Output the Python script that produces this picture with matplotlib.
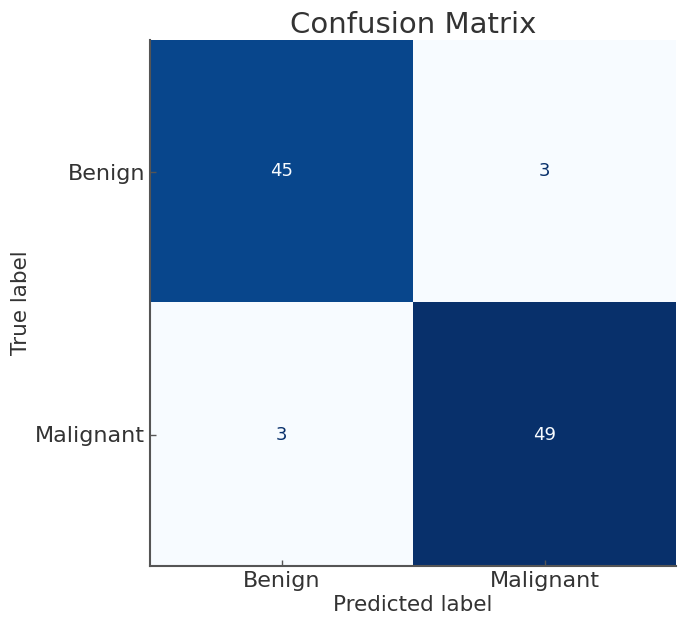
import numpy as np
import matplotlib
matplotlib.use("Agg")
import matplotlib.pyplot as plt

# ── data ─────────────────────────────────────────────────────────────────────
class_names = ["Benign", "Malignant"]
cm = np.array([[45, 3],
               [3, 49]])

# ── plot ─────────────────────────────────────────────────────────────────────
text_grey = "#333333"
fig = plt.figure(figsize=(6.85, 6.26), dpi=100)
ax = fig.add_axes([150 / 685, 60 / 626, 526 / 685, 526 / 626])

cmap = plt.get_cmap("Blues")
im = ax.imshow(cm, cmap=cmap, interpolation="nearest", aspect="auto")

# cell text, light on dark cells and dark on light ones (like sklearn)
thresh = (cm.max() + cm.min()) / 2.0
for i in range(cm.shape[0]):
    for j in range(cm.shape[1]):
        color = cmap(0.0) if cm[i, j] > thresh else cmap(1.0)
        ax.text(j, i, str(cm[i, j]), ha="center", va="center",
                color=color, fontsize=13)

ax.set_xticks(range(len(class_names)))
ax.set_yticks(range(len(class_names)))
ax.set_xticklabels(class_names)
ax.set_yticklabels(class_names)
ax.tick_params(direction="in", length=4, width=1, colors="#555555",
               labelcolor=text_grey, labelsize=16)

for side in ["top", "right"]:
    ax.spines[side].set_visible(False)
for side in ["left", "bottom"]:
    ax.spines[side].set_color("#555555")
    ax.spines[side].set_linewidth(1.5)

ax.set_xlabel("Predicted label", fontsize=15.5, color=text_grey, labelpad=3)
ax.set_ylabel("True label", fontsize=15.5, color=text_grey, labelpad=3)
ax.set_title("Confusion Matrix", fontsize=21, color=text_grey, pad=5)

plt.savefig("out.png", dpi=100)
